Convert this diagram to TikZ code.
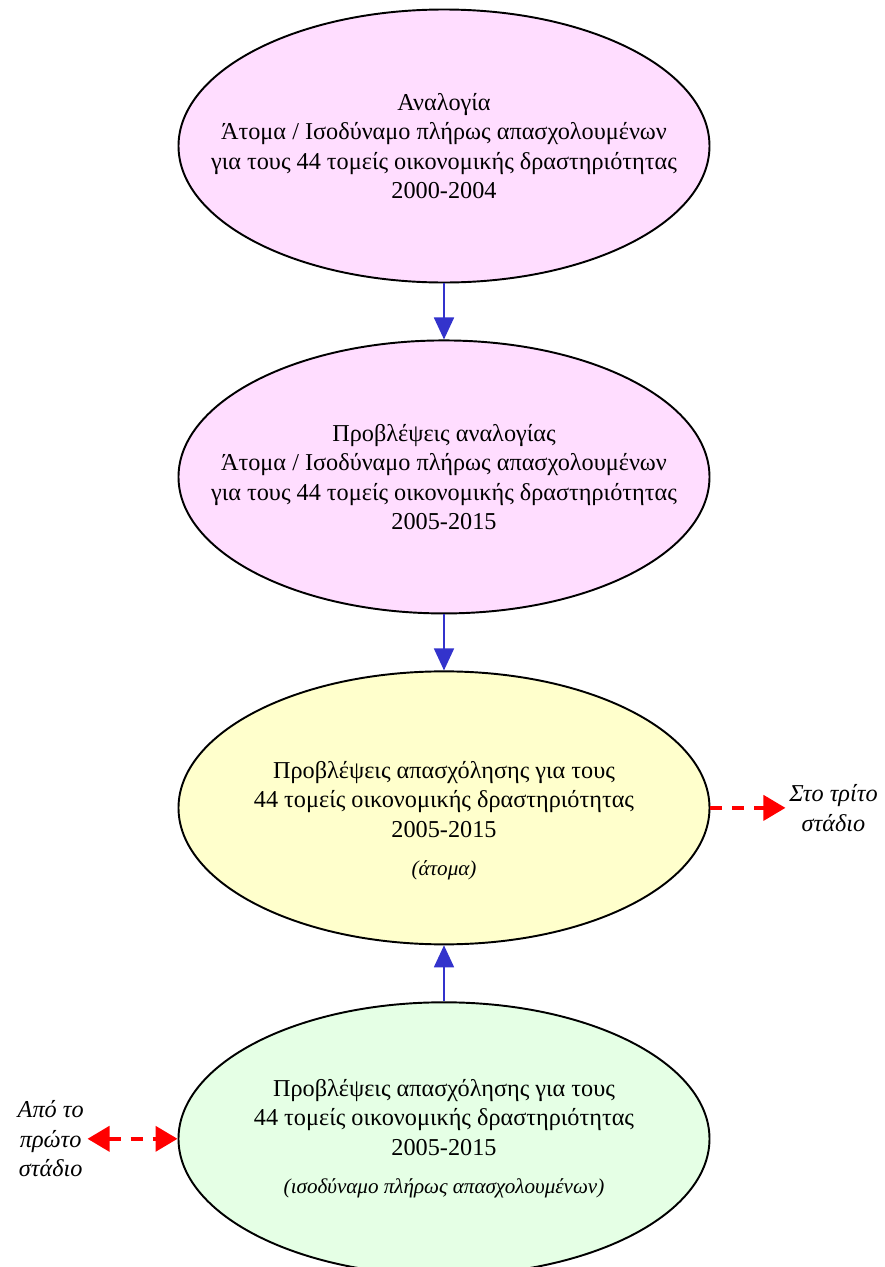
\documentclass[tikz,border=0pt]{standalone}
\usepackage{fontspec}
\setmainfont{Liberation Serif}
\usepackage{tikz}
\usetikzlibrary{arrows.meta,positioning,shapes.geometric}
\definecolor{pinkfill}{RGB}{255,221,255}
\definecolor{yellowfill}{RGB}{255,255,204}
\definecolor{greenfill}{RGB}{229,255,229}
\definecolor{flowblue}{RGB}{51,51,204}
\definecolor{linkred}{RGB}{255,0,0}
\tikzset{
  stage/.style={ellipse,draw=black,line width=1.1pt,minimum width=10.62cm,minimum height=5.46cm,inner xsep=-0.92cm,inner ysep=0pt,align=center,font=\fontsize{13.8}{16.8}\selectfont},
  ratio/.style={stage,fill=pinkfill},
  result/.style={stage,fill=yellowfill},
  fte/.style={stage,fill=greenfill},
  side/.style={align=center,inner sep=2pt,font=\fontsize{13.8}{16.8}\selectfont\itshape},
  flow/.style={-{Triangle[length=0.44cm,width=0.4cm]},draw=flowblue,line width=1pt},
  link/.style={-{Triangle[length=0.44cm,width=0.5cm]},draw=linkred,line width=2.2pt,dash pattern=on 0.24cm off 0.2cm}
}
\newcommand{\unitnote}[1]{\\[0.18cm]{\fontsize{12}{14}\selectfont\itshape #1}}

\begin{document}
\begin{tikzpicture}[node distance=1.12cm]
  \useasboundingbox (-8.88,2.92) rectangle (8.82,-22.42);
  \node[ratio] (share) {Αναλογία\\Άτομα / Ισοδύναμο πλήρως απασχολουμένων\\για τους 44 τομείς οικονομικής δραστηριότητας\\2000-2004};
  \node[ratio,below=of share] (shareproj) {Προβλέψεις αναλογίας\\Άτομα / Ισοδύναμο πλήρως απασχολουμένων\\για τους 44 τομείς οικονομικής δραστηριότητας\\2005-2015};
  \node[result,below=of shareproj] (persons) {\rule{0pt}{0.86cm}Προβλέψεις απασχόλησης για τους\\44 τομείς οικονομικής δραστηριότητας\\2005-2015\unitnote{(άτομα)}};
  \node[fte,below=of persons] (equiv) {Προβλέψεις απασχόλησης για τους\\44 τομείς οικονομικής δραστηριότητας\\2005-2015\unitnote{(ισοδύναμο πλήρως απασχολουμένων)}};
  \node[side,right=1.5cm of persons] (third) {Στο τρίτο\\στάδιο};
  \node[side,left=1.8cm of equiv] (first) {Από το\\πρώτο\\στάδιο};
  \draw[flow] (share) -- (shareproj);
  \draw[flow] (shareproj) -- (persons);
  \draw[flow] (equiv) -- (persons);
  \draw[link] (persons) -- (third);
  \draw[link,{Triangle[length=0.44cm,width=0.5cm]}-{Triangle[length=0.44cm,width=0.5cm]}] (first) -- (equiv);
\end{tikzpicture}
\end{document}
